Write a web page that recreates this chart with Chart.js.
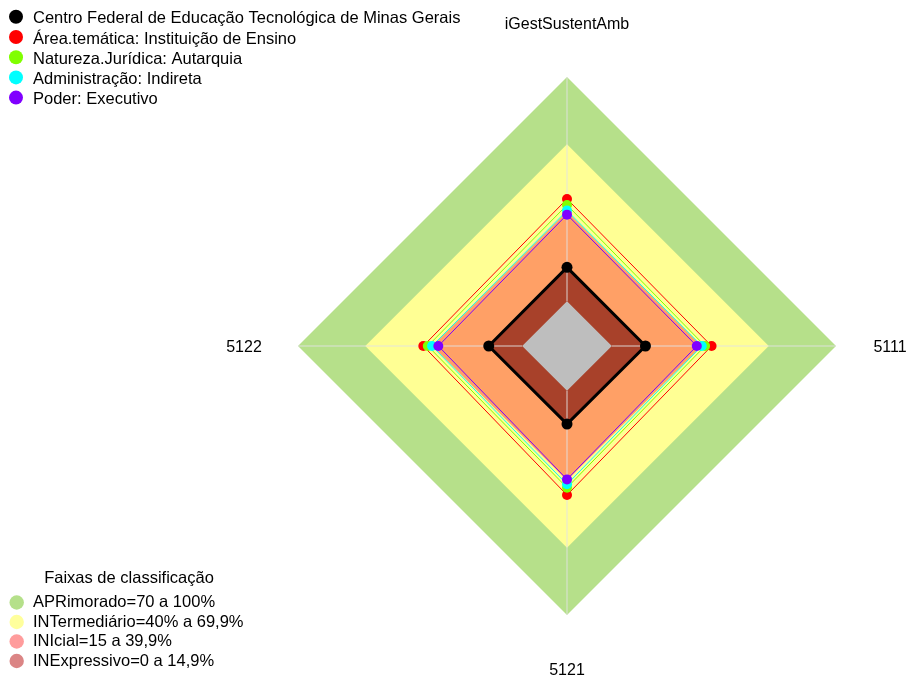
<!DOCTYPE html>
<html lang="pt-BR">
<head>
<meta charset="utf-8">
<title>iGestSustentAmb</title>
<script src="https://cdn.jsdelivr.net/npm/chart.js@4/dist/chart.umd.min.js"></script>
<style>
  html, body { margin: 0; padding: 0; background: #ffffff; }
  #wrap { width: 909px; height: 680px; position: relative; }
  canvas { display: block; }
</style>
</head>
<body>
<div id="wrap"><canvas id="radar" width="909" height="680"></canvas></div>
<script>
// Axes of the radar (clockwise from the top)
const axisLabels = ['iGestSustentAmb', '5111', '5121', '5122'];

// Compared series (percent)
const seriesNames = [
  'Centro Federal de Educação Tecnológica de Minas Gerais',
  'Área.temática: Instituição de Ensino',
  'Natureza.Jurídica: Autarquia',
  'Administração: Indireta',
  'Poder: Executivo'
];
const cefetValues       = [15.1, 15.0, 14.8, 14.9];
const areaValues        = [45.6, 44.5, 46.5, 44.1];
const naturezaValues    = [42.9, 41.6, 43.2, 42.1];
const administracaoVals = [40.4, 40.1, 41.7, 40.2];
const poderValues       = [38.6, 37.9, 39.5, 37.4];
const seriesColors = ['#000000', '#ff0000', '#80ff00', '#00ffff', '#8000ff'];

// Classification bands: upper limit of each band, outermost first
const bandTitle = 'Faixas de classificação';
const bandNames = [
  'APRimorado=70 a 100%',
  'INTermediário=40% a 69,9%',
  'INIcial=15 a 39,9%',
  'INExpressivo=0 a 14,9%'
];
const bandUpper = [100, 70, 40, 15, 0];
const bandFill = ['#b6e08a', '#ffff94', '#ffa066', '#a8412a', '#bebebe'];
const bandLegendColors = ['#b5e08a', '#ffff9c', '#ff9c9c', '#db8585'];
const scaleMin = -20;
const scaleMax = 100;

const AXIS_FONT = '16px "Liberation Sans", Arial, sans-serif';
const LEGEND_FONT = '16.5px "Liberation Sans", Arial, sans-serif';

// Band polygons, drawn outermost first so inner bands sit on top
const bandDatasets = bandUpper.map((upper, k) => ({
  label: 'band' + k,
  data: axisLabels.map(() => upper),
  backgroundColor: bandFill[k],
  borderWidth: 0,
  pointRadius: 0,
  fill: 'start',
  order: 20 - k,
  isInnermost: k === bandUpper.length - 1
}));

const seriesValues = [cefetValues, areaValues, naturezaValues, administracaoVals, poderValues];
const seriesDatasets = seriesValues.map((vals, k) => ({
  label: seriesNames[k],
  data: vals,
  borderColor: seriesColors[k],
  backgroundColor: seriesColors[k],
  pointBackgroundColor: seriesColors[k],
  pointBorderWidth: 0,
  pointRadius: k === 0 ? 5.5 : 5,
  borderWidth: k === 0 ? 3 : 1,
  fill: false,
  order: 5 - k
}));

// Axis spokes (0 to 100) laid over the bands, plus labels and both legends
const decorations = {
  id: 'decorations',
  afterDatasetDraw(chart, args) {
    const ds = chart.data.datasets[args.index];
    if (!ds.isInnermost) return;
    const scale = chart.scales.r;
    const ctx = chart.ctx;
    ctx.save();
    ctx.strokeStyle = 'rgba(225,225,225,0.6)';
    ctx.lineWidth = 1.5;
    for (let i = 0; i < axisLabels.length; i++) {
      const a = scale.getPointPosition(i, scale.getDistanceFromCenterForValue(0));
      const b = scale.getPointPosition(i, scale.getDistanceFromCenterForValue(scaleMax));
      ctx.beginPath();
      ctx.moveTo(a.x, a.y);
      ctx.lineTo(b.x, b.y);
      ctx.stroke();
    }
    ctx.restore();
  },
  afterDraw(chart) {
    const scale = chart.scales.r;
    const ctx = chart.ctx;
    ctx.save();
    ctx.fillStyle = '#000000';

    // axis labels
    ctx.font = AXIS_FONT;
    ctx.textAlign = 'center';
    ctx.textBaseline = 'alphabetic';
    axisLabels.forEach((txt, i) => {
      const p = scale.getPointPosition(i, scale.drawingArea + 54);
      ctx.fillText(txt, p.x, p.y + 6);
    });

    // series legend (top left)
    ctx.font = LEGEND_FONT;
    ctx.textAlign = 'left';
    seriesNames.forEach((name, k) => {
      const base = 23.4 + k * 20.2;
      ctx.beginPath();
      ctx.fillStyle = seriesColors[k];
      ctx.arc(16, base - 6.6, 7, 0, Math.PI * 2);
      ctx.fill();
      ctx.fillStyle = '#000000';
      ctx.fillText(name, 33, base);
    });

    // classification legend (bottom left)
    ctx.textAlign = 'center';
    ctx.fillText(bandTitle, 129, 582.7);
    ctx.textAlign = 'left';
    bandNames.forEach((name, k) => {
      const base = 607.3 + k * 19.5;
      ctx.beginPath();
      ctx.fillStyle = bandLegendColors[k];
      ctx.arc(16.7, base - 4.8, 7.2, 0, Math.PI * 2);
      ctx.fill();
      ctx.fillStyle = '#000000';
      ctx.fillText(name, 33, base);
    });
    ctx.restore();
  }
};

new Chart(document.getElementById('radar'), {
  type: 'radar',
  data: {
    labels: axisLabels,
    datasets: seriesDatasets.concat(bandDatasets)
  },
  options: {
    responsive: false,
    devicePixelRatio: 1,
    animation: false,
    events: [],
    layout: { padding: { left: 298, right: 73, top: 77, bottom: 65 } },
    elements: { line: { tension: 0 } },
    plugins: {
      legend: { display: false },
      tooltip: { enabled: false }
    },
    scales: {
      r: {
        min: scaleMin,
        max: scaleMax,
        ticks: { display: false },
        grid: { display: false },
        angleLines: { display: false },
        pointLabels: { display: false }
      }
    }
  },
  plugins: [decorations]
});
</script>
</body>
</html>
